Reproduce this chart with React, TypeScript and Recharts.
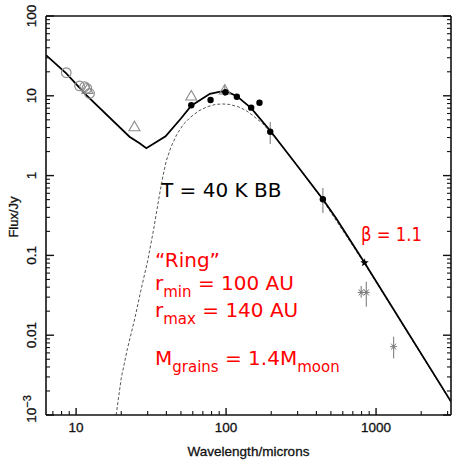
import React from "react";
import { ComposedChart, Line, Scatter, XAxis, YAxis, ErrorBar, Customized } from "recharts";

// ---- axis ticks ----
const xTicks = [7, 8, 9, 10, 20, 30, 40, 50, 60, 70, 80, 90, 100, 200, 300, 400, 500, 600, 700, 800, 900, 1000, 2000, 3000];
const xMajor = [10, 100, 1000];
const yTicks = [
  0.001, 0.002, 0.003, 0.004, 0.005, 0.006, 0.007, 0.008, 0.009,
  0.01, 0.02, 0.03, 0.04, 0.05, 0.06, 0.07, 0.08, 0.09,
  0.1, 0.2, 0.3, 0.4, 0.5, 0.6, 0.7, 0.8, 0.9,
  1, 2, 3, 4, 5, 6, 7, 8, 9,
  10, 20, 30, 40, 50, 60, 70, 80, 90, 100,
];
const yMajor = [0.001, 0.01, 0.1, 1, 10, 100];
const yMajorLabels = ["10", "0.01", "0.1", "1", "10", "100"];
const xDomain = [6.3, 3160];
const yDomain = [0.001, 100];

// ---- model curve (solid) ----
const modelWavelength = [6.3, 8.6, 11.7, 22.7, 26.5, 29.4, 39.5, 50, 58.6, 78, 90, 100, 118, 147, 197, 294, 442, 543, 838, 3160];
const modelFlux = [32.4, 19.1, 10.2, 3.07, 2.54, 2.2, 3.1, 5.2, 7.5, 10.6, 11.2, 11.4, 9.9, 7.0, 3.65, 1.38, 0.505, 0.29, 0.081, 0.00147];

// ---- 40 K blackbody (dashed) ----
const bbWavelength = [18.5, 20, 22, 24.5, 27, 30, 33, 36, 38, 40, 43, 47, 52, 58, 66, 75, 85, 95, 105, 120, 135, 150, 175, 200, 250, 300, 442, 838, 3160];
const bbFlux = [0.001, 0.0029, 0.0068, 0.0155, 0.036, 0.085, 0.22, 0.58, 1.0, 1.55, 2.3, 3.3, 4.4, 5.4, 6.5, 7.3, 7.8, 7.9, 7.8, 7.3, 6.6, 5.7, 4.5, 3.4, 2.05, 1.3, 0.49, 0.079, 0.00145];

// ---- photometry ----
const circleWavelength = [8.6, 10.55, 11.4, 11.8, 12.3];
const circleFlux = [19.5, 13.3, 13.0, 12.4, 10.7];

const triangleWavelength = [11.9, 24.5, 58.6, 98];
const triangleFlux = [12.0, 4.1, 9.94, 11.8];
const triangleErrLow = [0, 0, 0, 1.86];
const triangleErrHigh = [0, 0, 0, 1.5];

const dotWavelength = [58.6, 78.8, 99, 118, 147, 167, 197, 442];
const dotFlux = [7.6, 8.86, 11.06, 9.75, 7.1, 8.2, 3.55, 0.505];
const dotErrLow = [0, 0, 0, 0, 0, 0, 1.06, 0.165];
const dotErrHigh = [0, 0, 0, 0, 0, 0, 1.14, 0.195];

const starWavelength = [838];
const starFlux = [0.081];

const asteriskWavelength = [796, 861, 1309];
const asteriskFlux = [0.0344, 0.0344, 0.00718];
const asteriskErrLow = [0.005, 0.0116, 0.00205];
const asteriskErrHigh = [0.007, 0.0125, 0.0024];

const zip = (xs: number[], ys: number[]) => xs.map((x, i) => ({ x, y: ys[i] }));
const zipErr = (xs: number[], ys: number[], lo: number[], hi: number[]) =>
  xs.map((x, i) => ({ x, y: ys[i], err: [lo[i], hi[i]] }));

const modelData = zip(modelWavelength, modelFlux);
const bbData = zip(bbWavelength, bbFlux);
const circleData = zip(circleWavelength, circleFlux);
const triangleData = zipErr(triangleWavelength, triangleFlux, triangleErrLow, triangleErrHigh);
const dotData = zipErr(dotWavelength, dotFlux, dotErrLow, dotErrHigh);
const starData = zip(starWavelength, starFlux);
const asteriskData = zipErr(asteriskWavelength, asteriskFlux, asteriskErrLow, asteriskErrHigh);

const AXIS_FONT = "'Liberation Sans', Arial, Helvetica, sans-serif";
const NOTE_FONT = "'DejaVu Sans', sans-serif";
const INK = "#111";
const GRAY = "#8a8a8a";
const TXT = { fontFamily: AXIS_FONT, fontSize: 13.5, fill: INK, stroke: INK, strokeWidth: 0.3 };

const BottomTick = (p: any) => {
  const v = p.payload.value;
  const major = xMajor.includes(v);
  return (
    <g>
      <line x1={p.x} x2={p.x} y1={p.y} y2={p.y - (major ? 7 : 4)} stroke={INK} strokeWidth={major ? 1.4 : 1.1} />
      {major && (
        <text x={p.x} y={p.y + 17} textAnchor="middle" {...TXT}>
          {v}
        </text>
      )}
    </g>
  );
};

const TopTick = (p: any) => {
  const v = p.payload.value;
  const major = xMajor.includes(v);
  return <line x1={p.x} x2={p.x} y1={p.y} y2={p.y + (major ? 7 : 4)} stroke={INK} strokeWidth={major ? 1.4 : 1.1} />;
};

const LeftTick = (p: any) => {
  const v = p.payload.value;
  const idx = yMajor.indexOf(v);
  const major = idx >= 0;
  const tx = p.x - 10;
  return (
    <g>
      <line x1={p.x} x2={p.x + (major ? 8 : 4)} y1={p.y} y2={p.y} stroke={INK} strokeWidth={major ? 1.4 : 1.1} />
      {major && idx === 0 && (
        <text x={tx} y={p.y - 6} transform={`rotate(-90, ${tx}, ${p.y - 6})`} textAnchor="middle" {...TXT}>
          {yMajorLabels[idx]}
          <tspan dy={-5} fontSize={11}>−3</tspan>
        </text>
      )}
      {major && idx > 0 && (
        <text x={tx} y={p.y} transform={`rotate(-90, ${tx}, ${p.y})`} textAnchor="middle" {...TXT}>
          {yMajorLabels[idx]}
        </text>
      )}
    </g>
  );
};

const RightTick = (p: any) => {
  const v = p.payload.value;
  const major = yMajor.includes(v);
  return <line x1={p.x} x2={p.x - (major ? 8 : 4)} y1={p.y} y2={p.y} stroke={INK} strokeWidth={major ? 1.4 : 1.1} />;
};

const OpenCircle = (p: any) => <circle cx={p.cx} cy={p.cy} r={4.8} fill="none" stroke={GRAY} strokeWidth={1.1} />;
const OpenTriangle = (p: any) => (
  <path
    d={`M${p.cx},${p.cy - 5.5} L${p.cx + 5.5},${p.cy + 4} L${p.cx - 5.5},${p.cy + 4} Z`}
    fill="none"
    stroke={GRAY}
    strokeWidth={1.1}
  />
);
const FilledDot = (p: any) => <circle cx={p.cx} cy={p.cy} r={3.2} fill="#000" />;
const Star = (p: any) => {
  const pts: string[] = [];
  for (let k = 0; k < 10; k++) {
    const r = k % 2 === 0 ? 4.5 : 1.9;
    const a = -Math.PI / 2 + (k * Math.PI) / 5;
    pts.push(`${p.cx + r * Math.cos(a)},${p.cy + r * Math.sin(a)}`);
  }
  return <polygon points={pts.join(" ")} fill="#000" />;
};
const Asterisk = (p: any) => (
  <g stroke="#777" strokeWidth={1}>
    <line x1={p.cx - 3.5} x2={p.cx + 3.5} y1={p.cy} y2={p.cy} />
    <line x1={p.cx - 2.5} x2={p.cx + 2.5} y1={p.cy - 3} y2={p.cy + 3} />
    <line x1={p.cx - 2.5} x2={p.cx + 2.5} y1={p.cy + 3} y2={p.cy - 3} />
  </g>
);

const Annotations = () => (
  <g>
    <text x={248.5} y={456} textAnchor="middle" {...TXT}>
      Wavelength/microns
    </text>
    <text x={18} y={217} transform="rotate(-90, 18, 217)" textAnchor="middle" {...TXT} fontSize={13}>
      Flux/Jy
    </text>
    <text x={161} y={197} fontFamily={NOTE_FONT} fontSize={20} fill="#000">
      T = 40 K BB
    </text>
    <g fontFamily={NOTE_FONT} fill="#ff0000">
      <text x={361} y={241} fontSize={20} textLength={61} lengthAdjust="spacingAndGlyphs">
        β = 1.1
      </text>
      <text x={155} y={267} fontSize={20}>
        “Ring”
      </text>
      <text x={155} y={290} fontSize={20}>
        r<tspan fontSize={15} dy={7}>min</tspan>
        <tspan dy={-7}> = 100 AU</tspan>
      </text>
      <text x={155} y={317} fontSize={20}>
        r<tspan fontSize={15} dy={7}>max</tspan>
        <tspan dy={-7}> = 140 AU</tspan>
      </text>
      <text x={155} y={365} fontSize={20}>
        M<tspan fontSize={15} dy={7}>grains</tspan>
        <tspan dy={-7}> = 1.4M</tspan>
        <tspan fontSize={15} dy={7}>moon</tspan>
      </text>
    </g>
  </g>
);

export default function App() {
  return (
    <div style={{ position: "absolute", left: 0, top: 0, width: 452, height: 462, background: "#fff" }}>
      <ComposedChart width={452} height={462} margin={{ top: 0, right: 0, bottom: 0, left: 0 }}>
        <XAxis
          xAxisId="b"
          dataKey="x"
          type="number"
          scale="log"
          domain={xDomain}
          allowDataOverflow
          ticks={xTicks}
          interval={0}
          tickSize={0}
          tickMargin={0}
          tickLine={false}
          tick={BottomTick}
          height={47}
          axisLine={{ stroke: INK, strokeWidth: 1.6 }}
        />
        <XAxis
          xAxisId="t"
          orientation="top"
          type="number"
          scale="log"
          domain={xDomain}
          allowDataOverflow
          ticks={xTicks}
          interval={0}
          tickSize={0}
          tickMargin={0}
          tickLine={false}
          tick={TopTick}
          height={16}
          axisLine={{ stroke: INK, strokeWidth: 1.6 }}
        />
        <YAxis
          yAxisId="l"
          dataKey="y"
          type="number"
          scale="log"
          domain={yDomain}
          allowDataOverflow
          ticks={yTicks}
          interval={0}
          tickSize={0}
          tickMargin={0}
          tickLine={false}
          tick={LeftTick}
          width={46}
          axisLine={{ stroke: INK, strokeWidth: 1.6 }}
        />
        <YAxis
          yAxisId="r"
          orientation="right"
          type="number"
          scale="log"
          domain={yDomain}
          allowDataOverflow
          ticks={yTicks}
          interval={0}
          tickSize={0}
          tickMargin={0}
          tickLine={false}
          tick={RightTick}
          width={1}
          axisLine={{ stroke: INK, strokeWidth: 1.6 }}
        />
        <Line
          xAxisId="b"
          yAxisId="l"
          data={bbData}
          dataKey="y"
          type="linear"
          stroke="#555"
          strokeWidth={1}
          strokeDasharray="3 2"
          dot={false}
          isAnimationActive={false}
        />
        <Line
          xAxisId="b"
          yAxisId="l"
          data={modelData}
          dataKey="y"
          type="linear"
          stroke="#000"
          strokeWidth={1.8}
          dot={false}
          isAnimationActive={false}
        />
        <Scatter xAxisId="b" yAxisId="l" data={circleData} dataKey="y" shape={OpenCircle} isAnimationActive={false} />
        <Scatter xAxisId="b" yAxisId="l" data={triangleData} dataKey="y" shape={OpenTriangle} isAnimationActive={false}>
          <ErrorBar dataKey="err" direction="y" width={0} stroke={GRAY} strokeWidth={1.2} />
        </Scatter>
        <Scatter xAxisId="b" yAxisId="l" data={asteriskData} dataKey="y" shape={Asterisk} isAnimationActive={false}>
          <ErrorBar dataKey="err" direction="y" width={0} stroke={GRAY} strokeWidth={1.2} />
        </Scatter>
        <Scatter xAxisId="b" yAxisId="l" data={dotData} dataKey="y" shape={FilledDot} isAnimationActive={false}>
          <ErrorBar dataKey="err" direction="y" width={0} stroke={GRAY} strokeWidth={1.2} />
        </Scatter>
        <Scatter xAxisId="b" yAxisId="l" data={starData} dataKey="y" shape={Star} isAnimationActive={false} />
        <Customized component={Annotations} />
      </ComposedChart>
    </div>
  );
}
